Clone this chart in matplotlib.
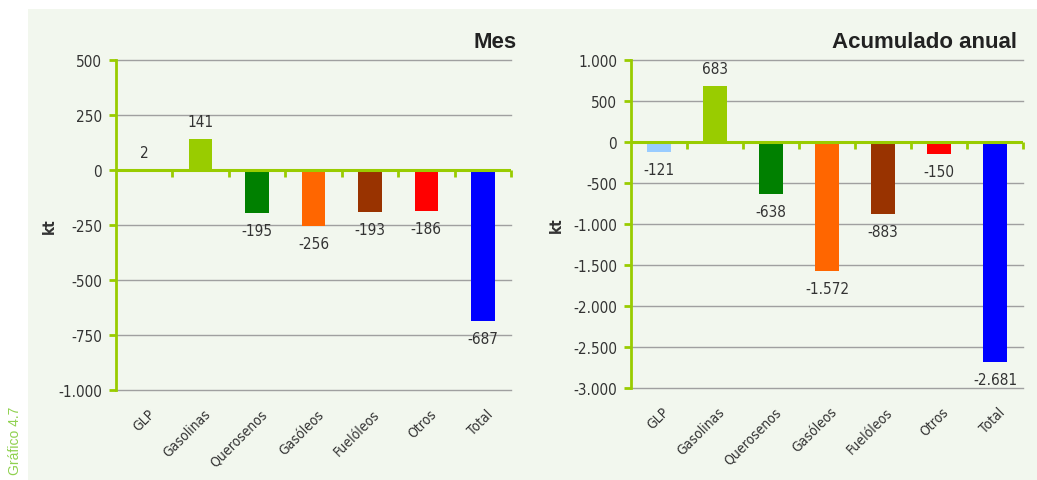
import matplotlib
matplotlib.use("Agg")
import matplotlib.pyplot as plt
from matplotlib.patches import Rectangle
from matplotlib.ticker import FuncFormatter
from matplotlib.markers import TICKDOWN

categories = ["GLP", "Gasolinas", "Querosenos", "Gasóleos", "Fuelóleos", "Otros", "Total"]
mes_values = [2, 141, -195, -256, -193, -186, -687]
anual_values = [-121, 683, -638, -1572, -883, -150, -2681]
mes_labels = ["2", "141", "-195", "-256", "-193", "-186", "-687"]
anual_labels = ["-121", "683", "-638", "-1.572", "-883", "-150", "-2.681"]
mes_ticks = [-1000, -750, -500, -250, 0, 250, 500]
anual_ticks = [-3000, -2500, -2000, -1500, -1000, -500, 0, 500, 1000]
bar_colors = ["#99ccff", "#99cc00", "#008000", "#ff6600", "#993300", "#ff0000", "#0000ff"]

plt.rcParams['font.family'] = ['DejaVu Sans']
plt.rcParams['font.stretch'] = 'condensed'

W, H = 1037, 481
fig = plt.figure(figsize=(W / 100, H / 100), dpi=100, facecolor="white")
fig.patches.append(Rectangle((28 / W, 0), 1 - 28 / W, 1 - 10 / H, transform=fig.transFigure,
                             facecolor="#f2f7ee", edgecolor="none", zorder=-10))

green = "#99cc00"
grid = "#a0a0a0"
txt = "#333333"


def fmt(v, pos=None):
    s = f"{abs(int(v)):,}".replace(",", ".")
    return ("-" if v < 0 else "") + s


def panel(rect, values, labels, ticks, title, title_x, ylabel_x):
    ax = fig.add_axes(rect)
    ax.set_facecolor("none")
    x = list(range(len(categories)))
    ax.bar(x, values, width=0.42, color=bar_colors, zorder=3)
    ax.set_xlim(-0.5, len(categories) - 0.5)
    ax.set_ylim(ticks[0], ticks[-1])
    ax.set_yticks(ticks)
    ax.yaxis.set_major_formatter(FuncFormatter(fmt))
    for t in ticks:
        if t != 0:
            ax.axhline(t, color=grid, lw=1, zorder=1, clip_on=False)
    ax.axhline(0, color=green, lw=2.2, zorder=4)
    for s in ["top", "right", "bottom"]:
        ax.spines[s].set_visible(False)
    ax.spines["left"].set_color(green)
    ax.spines["left"].set_linewidth(2)
    ax.spines["left"].set_zorder(5)
    ax.tick_params(axis="y", colors=green, labelcolor=txt, length=5, width=2, labelsize=11, pad=5)
    ax.set_xticks([])
    ax.plot([k - 0.5 for k in range(1, len(categories) + 1)], [0] * len(categories),
            linestyle="none", marker=TICKDOWN, markersize=5, color=green, mew=2,
            zorder=5, clip_on=False)
    for i, (v, lab) in enumerate(zip(values, labels)):
        if v >= 0:
            ax.annotate(lab, (i, v), xytext=(0, 7), textcoords="offset points",
                        ha="center", va="bottom", fontsize=11, color=txt)
        else:
            ax.annotate(lab, (i, v), xytext=(0, -7), textcoords="offset points",
                        ha="center", va="top", fontsize=11, color=txt)
    for i, c in enumerate(categories):
        ax.text(i + 0.05, -0.05, c, transform=ax.get_xaxis_transform(), rotation=45,
                ha="right", va="top", fontsize=10, color=txt, rotation_mode="anchor")
    ax.set_ylabel("kt", fontsize=11, fontweight="bold", color=txt)
    ax.yaxis.set_label_coords(ylabel_x, 0.5)
    fig.text(title_x, 1 - 42 / H, title, ha="right", va="center", fontsize=16,
             fontweight="bold", color="#222222", family="Liberation Sans", stretch="normal")
    return ax


panel([116 / W, 1 - 391 / H, (511 - 116) / W, (391 - 61) / H], mes_values, mes_labels,
      mes_ticks, "Mes", 517 / W, -0.15)
panel([631 / W, 1 - 389 / H, (1023 - 631) / W, (389 - 61) / H], anual_values, anual_labels,
      anual_ticks, "Acumulado anual", 1017 / W, -0.17)

fig.text(8 / W, 6 / H, "Gráfico 4.7", rotation=90, ha="left", va="bottom",
         fontsize=10, color="#8fd14f", family="Liberation Sans", stretch="normal")

fig.savefig("out.png", dpi=100, facecolor="white")
